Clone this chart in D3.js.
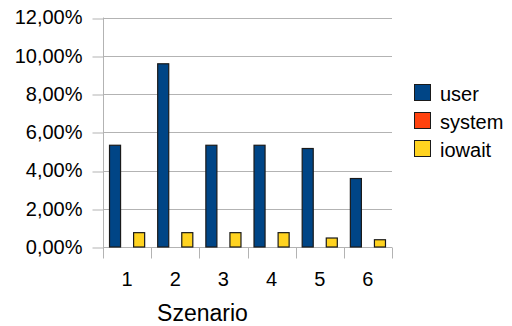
<!DOCTYPE html>
<html>
<head>
<meta charset="utf-8">
<script src="https://cdn.jsdelivr.net/npm/d3@7"></script>
<style>
  html, body { margin: 0; padding: 0; background: #fff; }
  svg { display: block; font-family: "Liberation Sans", Arial, sans-serif; }
</style>
</head>
<body>
<svg id="chart" width="512" height="326"></svg>
<script>
// Scenario categories and CPU time shares (fractions)
const categories = ["1", "2", "3", "4", "5", "6"];
const seriesNames = ["user", "system", "iowait"];
const userValues = [0.0532, 0.0958, 0.0532, 0.0532, 0.0515, 0.0358];
const systemValues = [0, 0, 0, 0, 0, 0];
const iowaitValues = [0.0075, 0.0075, 0.0075, 0.0075, 0.0047, 0.0038];
const yTicks = [0, 0.02, 0.04, 0.06, 0.08, 0.10, 0.12];
const colors = ["#004586", "#ff420e", "#ffd320"];

const seriesValues = [userValues, systemValues, iowaitValues];

const svg = d3.select("#chart");
const plot = { left: 103, right: 392, top: 17.5, bottom: 247 };

const x = d3.scaleBand().domain(categories).range([plot.left, plot.right]).padding(0);
const inner = d3.scaleBand().domain(seriesNames).range([0, x.bandwidth()]).paddingInner(0).paddingOuter(0.5);
const y = d3.scaleLinear().domain([0, 0.12]).range([plot.bottom, plot.top]);

const fmt = v => d3.format(".2f")(v * 100).replace(".", ",") + "%";

// horizontal grid lines
svg.append("g")
  .selectAll("line")
  .data(yTicks)
  .join("line")
  .attr("x1", plot.left).attr("x2", plot.right)
  .attr("y1", d => Math.round(y(d)) + 0.5).attr("y2", d => Math.round(y(d)) + 0.5)
  .attr("stroke", "#b3b3b3").attr("stroke-width", 1);

// y axis
const yAxis = d3.axisLeft(y).tickValues(yTicks).tickFormat(fmt).tickSize(11).tickPadding(10);
const gy = svg.append("g").attr("transform", `translate(${plot.left + 0.5},0)`).call(yAxis);
gy.select(".domain").attr("stroke", "#b3b3b3").attr("d", `M0,${plot.top}V${plot.bottom}`);
gy.selectAll(".tick line").attr("stroke", "#b3b3b3")
  .attr("transform", d => `translate(0,${Math.round(y(d)) + 0.5 - y(d)})`);
gy.selectAll(".tick text").attr("font-size", 20).attr("fill", "#000")
  .attr("font-family", "Liberation Sans, Arial, sans-serif");

// x axis with ticks at category boundaries
const gx = svg.append("g").attr("transform", `translate(0,${plot.bottom + 0.5})`);
gx.append("line").attr("x1", plot.left).attr("x2", plot.right).attr("stroke", "#b3b3b3");
const bounds = categories.map(c => x(c)).concat([plot.right]);
gx.selectAll("line.tk").data(bounds).join("line").attr("class", "tk")
  .attr("x1", d => Math.round(d) + 0.5).attr("x2", d => Math.round(d) + 0.5)
  .attr("y1", 0).attr("y2", 11).attr("stroke", "#b3b3b3");
gx.selectAll("text").data(categories).join("text")
  .attr("x", d => x(d) + x.bandwidth() / 2)
  .attr("y", 38.5)
  .attr("text-anchor", "middle")
  .attr("font-size", 20)
  .text(d => d);

// bars
seriesNames.forEach((name, si) => {
  svg.append("g")
    .selectAll("rect")
    .data(categories.map((c, i) => ({ c, v: seriesValues[si][i] })).filter(d => d.v > 0))
    .join("rect")
    .attr("x", d => x(d.c) + inner(name) + 0.5)
    .attr("y", d => y(d.v))
    .attr("width", inner.bandwidth() - 1)
    .attr("height", d => y(0) - y(d.v))
    .attr("fill", colors[si])
    .attr("stroke", "#1a1a1a")
    .attr("stroke-width", 1.2);
});

// axis title
svg.append("text")
  .attr("x", 202.5).attr("y", 321)
  .attr("text-anchor", "middle")
  .attr("font-size", 23)
  .text("Szenario");

// legend
const legend = svg.append("g").attr("transform", "translate(414,84)");
seriesNames.forEach((name, i) => {
  const g = legend.append("g").attr("transform", `translate(0,${i * 28})`);
  g.append("rect").attr("x", 0.5).attr("y", 0.5).attr("width", 16).attr("height", 16)
    .attr("fill", colors[i]).attr("stroke", "#1a1a1a").attr("stroke-width", 1);
  g.append("text").attr("x", 26).attr("y", 16.5).attr("font-size", 20).text(name);
});
</script>
</body>
</html>
